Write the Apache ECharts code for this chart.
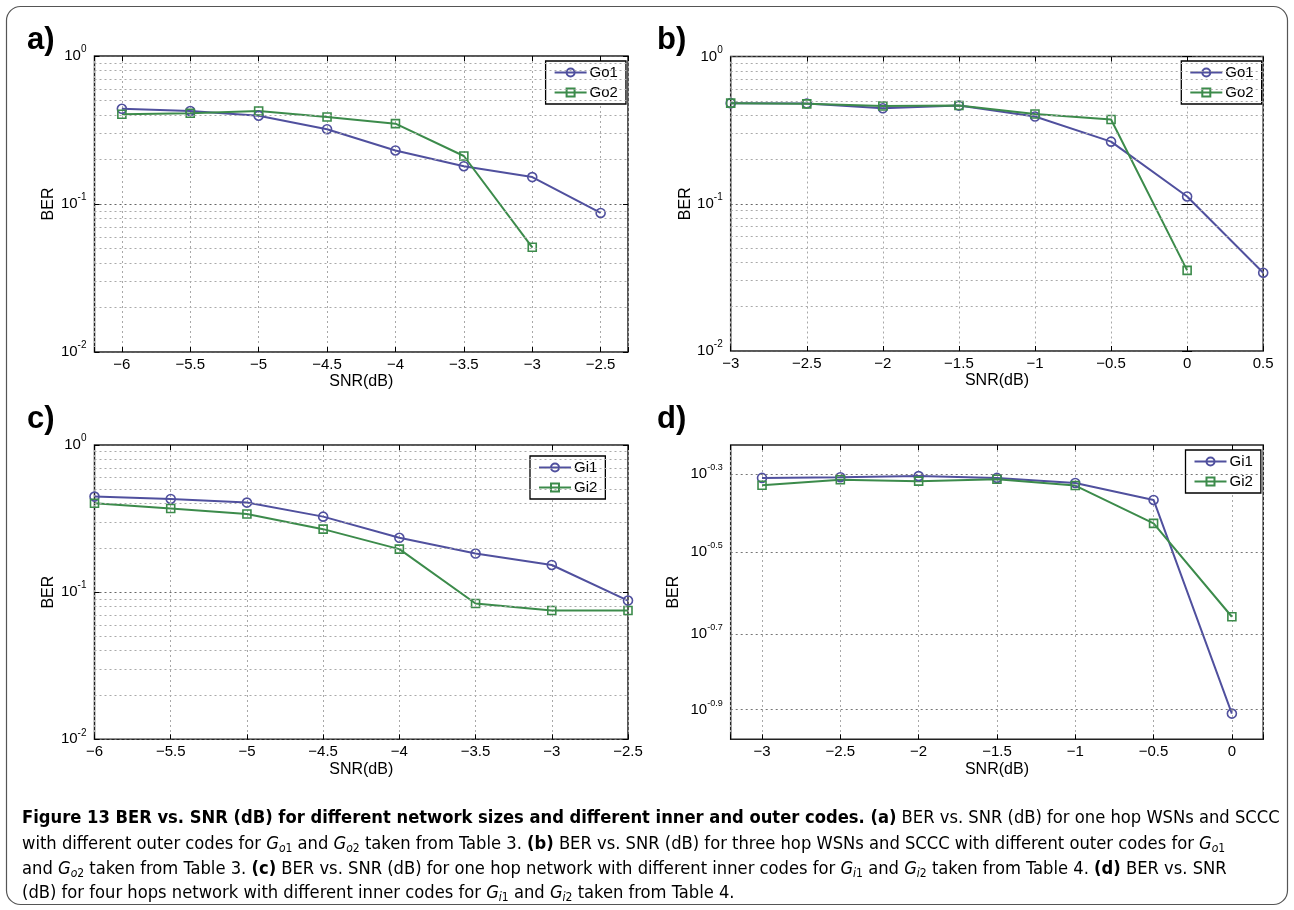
<!DOCTYPE html>
<html><head><meta charset="utf-8">
<style>html,body{margin:0;padding:0;background:#fff;}#chart{width:1294px;height:910px;}</style>
<script src="https://cdn.jsdelivr.net/npm/echarts@6/dist/echarts.min.js"></script>
</head><body><div id="chart"></div>
<script>
// ---------- data ----------
const snrA = [-6, -5.5, -5, -4.5, -4, -3.5, -3, -2.5];
const go1A = [0.44, 0.425, 0.395, 0.32, 0.23, 0.18, 0.152, 0.087];
const go2A = [0.404, 0.41, 0.425, 0.387, 0.349, 0.211, 0.051];
const snrB = [-3, -2.5, -2, -1.5, -1, -0.5, 0, 0.5];
const go1B = [0.482, 0.48, 0.445, 0.464, 0.391, 0.264, 0.112, 0.034];
const go2B = [0.482, 0.477, 0.461, 0.465, 0.407, 0.373, 0.0353];
const snrC = [-6, -5.5, -5, -4.5, -4, -3.5, -3, -2.5];
const gi1C = [0.446, 0.43, 0.406, 0.326, 0.234, 0.183, 0.153, 0.0877];
const gi2C = [0.402, 0.37, 0.34, 0.268, 0.196, 0.0837, 0.075, 0.075];
const snrD = [-3, -2.5, -2, -1.5, -1, -0.5, 0];
const gi1D = [0.489, 0.491, 0.494, 0.489, 0.475, 0.431, 0.127];
const gi2D = [0.469, 0.484, 0.480, 0.485, 0.468, 0.377, 0.221];
const namesOuter = ['Go1', 'Go2'];
const namesInner = ['Gi1', 'Gi2'];
const minorMultipliers = [2, 3, 4, 5, 6, 7, 8, 9];
const minorDecades = [0.01, 0.1];
const dTickExponents = [-0.3, -0.5, -0.7, -0.9];
const panelLetters = ['a)', 'b)', 'c)', 'd)'];

// ---------- style ----------
const BLUE = '#50509e', GREEN = '#3c8b4b';
const FONT = "'Liberation Sans', Arial, Helvetica, sans-serif";
const CAPFONT = "'Liberation Sans Narrow', 'DejaVu Sans Condensed', 'Liberation Sans', sans-serif";

const grids = [
  {left: 94.5, top: 56, width: 533.5, height: 296},
  {left: 730.7, top: 56.5, width: 532.5, height: 294.5},
  {left: 94.5, top: 445, width: 533.5, height: 294.3},
  {left: 730.7, top: 445, width: 532.5, height: 294.3}
];
const xSpec = [
  {min: -6.2, max: -2.3, splitNumber: 8},
  {min: -3, max: 0.5, interval: 0.5},
  {min: -6, max: -2.5, interval: 0.5},
  {min: -3.2, max: 0.2, splitNumber: 7}
];
const ySpec = [
  {min: 0.01, max: 1}, {min: 0.01, max: 1}, {min: 0.01, max: 1},
  {min: Math.pow(10, -0.96), max: Math.pow(10, -0.229)}
];

const supRich = {
  base: {fontSize: 15, fontFamily: FONT, color: '#000'},
  sup: {fontSize: 10, fontFamily: FONT, color: '#000', padding: [0, 0, 13, 0]}
};
const supRichD = {
  base: {fontSize: 15, fontFamily: FONT, color: '#000'},
  sup: {fontSize: 9, fontFamily: FONT, color: '#000', padding: [0, 0, 13, 0]}
};
function fmtX(v) {
  if (Math.abs(v * 2 - Math.round(v * 2)) > 1e-6) return '';
  if (Math.abs(v) < 1e-9) return '0';
  return v < 0 ? '\u2212' + Math.abs(v) : String(v);
}
function fmtLog(v) {
  const e = Math.round(Math.log10(v));
  return '{base|10}{sup|' + e + '}';
}

const xAxes = [], yAxes = [];
grids.forEach((g, i) => {
  const xs = xSpec[i];
  const common = Object.assign({type: 'value', gridIndex: i}, xs);
  xAxes.push(Object.assign({}, common, {
    position: 'bottom',
    name: 'SNR(dB)', nameLocation: 'middle', nameGap: 22,
    nameTextStyle: {fontSize: 16, fontFamily: FONT, color: '#000'},
    axisLine: {show: false},
    axisTick: {show: true, inside: true, length: 5, lineStyle: {color: '#000'}},
    axisLabel: {formatter: fmtX, fontSize: 15, fontFamily: FONT, color: '#000', margin: 5},
    splitLine: {show: true, lineStyle: {color: '#a8a8a8', type: [2, 3], width: 1}}
  }));
  xAxes.push(Object.assign({}, common, {
    position: 'top',
    axisLine: {show: false},
    axisTick: {show: true, inside: true, length: 5, lineStyle: {color: '#000'}},
    axisLabel: {show: false},
    splitLine: {show: false}
  }));
  const isD = i === 3;
  yAxes.push({
    type: 'log', logBase: 10, gridIndex: i, min: ySpec[i].min, max: ySpec[i].max,
    position: 'left',
    name: 'BER', nameLocation: 'middle', nameGap: isD ? 49 : 31,
    nameTextStyle: {fontSize: 16, fontFamily: FONT, color: '#000'},
    axisLine: {show: false},
    axisTick: {show: !isD, inside: true, length: 5, lineStyle: {color: '#000'}},
    axisLabel: {show: !isD, formatter: fmtLog, margin: 8, rich: supRich},
    splitLine: {show: !isD, lineStyle: {color: '#666', type: [2, 3], width: 1}}
  });
  yAxes.push({
    type: 'log', logBase: 10, gridIndex: i, min: ySpec[i].min, max: ySpec[i].max,
    position: 'right',
    axisLine: {show: false},
    axisTick: {show: !isD, inside: true, length: 5, lineStyle: {color: '#000'}},
    axisLabel: {show: false},
    splitLine: {show: false}
  });
});

function pairs(xs, ys) { return ys.map((y, k) => [xs[k], y]); }

const minorLines = [];
minorDecades.forEach(d => minorMultipliers.forEach(m => minorLines.push({yAxis: +(m * d).toPrecision(3)})));

function gridMarkLine() {
  return {
    silent: true, symbol: ['none', 'none'], animation: false,
    label: {show: false},
    lineStyle: {color: '#aaa', type: [2, 3], width: 1},
    emphasis: {disabled: true},
    data: minorLines
  };
}
function dMarkLine() {
  return {
    silent: true, symbol: ['none', 'none'], animation: false,
    lineStyle: {color: '#777', type: [2, 3], width: 1},
    emphasis: {disabled: true},
    label: {show: true, position: 'start', distance: 8,
      formatter: p => '{base|10}{sup|' + Math.round(Math.log10(p.value) * 10) / 10 + '}',
      rich: supRichD},
    data: dTickExponents.map(e => ({yAxis: Math.pow(10, e)}))
  };
}

function mkSeries(name, color, symbol, size, xi, yi, data, markLine) {
  const s = {
    type: 'line', name: name, xAxisIndex: xi, yAxisIndex: yi, data: data,
    symbol: symbol, symbolSize: size, showSymbol: true, animation: false,
    lineStyle: {color: color, width: 2},
    itemStyle: {color: 'rgba(255,255,255,0)', borderColor: color, borderWidth: 1.6},
    emphasis: {disabled: true}, z: 3
  };
  if (markLine) s.markLine = markLine;
  return s;
}
const series = [
  mkSeries('Go1', BLUE, 'circle', 9, 0, 0, pairs(snrA, go1A), gridMarkLine()),
  mkSeries('Go2', GREEN, 'rect', 8, 0, 0, pairs(snrA, go2A)),
  mkSeries('Go1', BLUE, 'circle', 9, 2, 2, pairs(snrB, go1B), gridMarkLine()),
  mkSeries('Go2', GREEN, 'rect', 8, 2, 2, pairs(snrB, go2B)),
  mkSeries('Gi1', BLUE, 'circle', 9, 4, 4, pairs(snrC, gi1C), gridMarkLine()),
  mkSeries('Gi2', GREEN, 'rect', 8, 4, 4, pairs(snrC, gi2C)),
  mkSeries('Gi1', BLUE, 'circle', 9, 6, 6, pairs(snrD, gi1D), dMarkLine()),
  mkSeries('Gi2', GREEN, 'rect', 8, 6, 6, pairs(snrD, gi2D))
];

function mkLegend(names, left, top) {
  return {
    data: names, left: left, top: top, orient: 'vertical',
    itemWidth: 32, itemHeight: 10, itemGap: 5,
    padding: [4, 8, 4, 8], backgroundColor: '#fff',
    borderColor: '#000', borderWidth: 1.3, borderRadius: 0,
    textStyle: {fontSize: 15, fontFamily: FONT, color: '#000', padding: [0, 0, 0, -2]},
    selectedMode: false
  };
}
const legends = [
  mkLegend(namesOuter, 545.6, 61),
  mkLegend(namesOuter, 1181.3, 61),
  mkLegend(namesInner, 530, 456),
  mkLegend(namesInner, 1185.5, 450)
];

const labelPos = [[27, 40], [657, 40], [27, 419], [657, 419]];
const graphics = [
  {type: 'rect', shape: {x: 6.5, y: 6.5, width: 1281, height: 898, r: 14}, silent: true,
   style: {fill: 'none', stroke: '#555', lineWidth: 1.2}, z: 0}
];
panelLetters.forEach((t, i) => graphics.push({
  type: 'text', x: labelPos[i][0], y: labelPos[i][1], silent: true,
  style: {text: t, fontSize: 31, fontWeight: 'bold', fontFamily: FONT, fill: '#000', verticalAlign: 'middle'}
}));

const CAP = 18.2;
const capRich = {
  b: {fontSize: CAP, fontFamily: CAPFONT, fontWeight: 'bold', color: '#000'},
  i: {fontSize: CAP, fontFamily: CAPFONT, fontStyle: 'italic', color: '#000'},
  subi: {fontSize: 12, fontFamily: CAPFONT, fontStyle: 'italic', color: '#000', padding: [10, 0, 0, 0]},
  sub: {fontSize: 12, fontFamily: CAPFONT, color: '#000', padding: [10, 0, 0, 0]}
};
const captionLines = [
  '{b|Figure 13 BER vs. SNR (dB) for different network sizes and different inner and outer codes. (a)} BER vs. SNR (dB) for one hop WSNs and SCCC',
  'with different outer codes for {i|G}{subi|o}{sub|1} and {i|G}{subi|o}{sub|2} taken from Table 3. {b|(b)} BER vs. SNR (dB) for three hop WSNs and SCCC with different outer codes for {i|G}{subi|o}{sub|1}',
  'and {i|G}{subi|o}{sub|2} taken from Table 3. {b|(c)} BER vs. SNR (dB) for one hop network with different inner codes for {i|G}{subi|i}{sub|1} and {i|G}{subi|i}{sub|2} taken from Table 4. {b|(d)} BER vs. SNR',
  '(dB) for four hops network with different inner codes for {i|G}{subi|i}{sub|1} and {i|G}{subi|i}{sub|2} taken from Table 4.'
];
const captionY = [818, 844, 869, 893];
captionLines.forEach((t, i) => graphics.push({
  type: 'text', x: 22, y: captionY[i], silent: true,
  style: {text: t, fontSize: CAP, fontFamily: CAPFONT, fill: '#000', verticalAlign: 'middle', rich: capRich}
}));

const chart = echarts.init(document.getElementById('chart'), null, {renderer: 'canvas'});
chart.setOption({
  backgroundColor: '#fff',
  animation: false,
  grid: grids.map(g => Object.assign({show: true, borderColor: '#222', borderWidth: 1.5, backgroundColor: '#fff', containLabel: false}, g)),
  xAxis: xAxes,
  yAxis: yAxes,
  legend: legends,
  series: series,
  graphic: graphics
});
</script></body></html>
